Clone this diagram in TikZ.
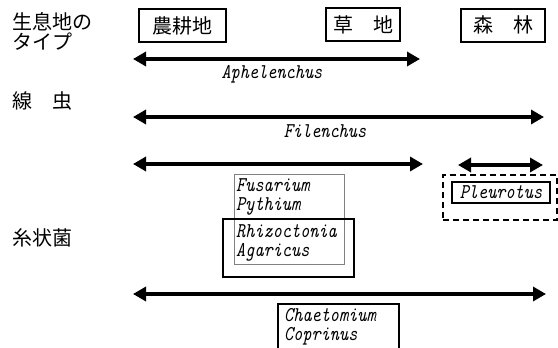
\documentclass[tikz,border=0pt]{standalone}
\usepackage{fontspec}
\newfontfamily\jpfont{Noto Sans CJK JP}
\newfontfamily\latfont{lmmono10-regular}[Extension=.otf, ItalicFont=lmmono10-italic, FakeStretch=0.83]
\usetikzlibrary{arrows.meta,positioning}

\begin{document}
\begin{tikzpicture}[x=1pt,y=-1pt]

    \tikzset{
      spanbar/.style={
        line width=3.5pt,
        {Triangle[length=13pt,width=14pt]}-{Triangle[length=13pt,width=14pt]},
      },
      habitat/.style={draw, line width=2pt, inner sep=0pt, minimum height=33pt,
        font=\jpfont\fontsize{20}{20}\selectfont},
      rowlabel/.style={anchor=west, inner sep=0pt, align=left,
        font=\jpfont\fontsize{20}{20}\selectfont},
      genus/.style={inner sep=0pt, font=\latfont\itshape\fontsize{21}{19.5}\selectfont},
      spp/.style={genus, anchor=west, align=left},
      thinbox/.style={draw=gray, line width=0.8pt, inner sep=0pt},
      thickbox/.style={draw, line width=2.5pt, inner sep=0pt},
    }
    \useasboundingbox (0,0) rectangle (558,348);
    \clip (0,0) rectangle (558,348);

	\node[rowlabel] (type) at (12,31) {生息地の\\タイプ};
	\node[rowlabel] (nema) at (12,101) {線　虫};
	\node[rowlabel] (fungi) at (12,238) {糸状菌};

	\node[habitat, minimum width=87pt] (farm) at (182.5,25.5) {農耕地};
	\node[habitat, minimum width=74pt] (grass) at (363,24.5) {草　地};
	\node[habitat, minimum width=84pt] (forest) at (503,25) {森　林};

	\coordinate (aph-l) at (133,59);
	\coordinate (aph-r) at (420,59);
	\draw[spanbar] (aph-l) -- (aph-r);
	\node[genus] (aph) at (272,74) {Aphelenchus};

	\coordinate (fil-l) at (133,117);
	\coordinate (fil-r) at (544,117);
	\draw[spanbar] (fil-l) -- (fil-r);
	\node[genus] (fil) at (325,131) {Filenchus};

	\coordinate (fus-l) at (133,164);
	\coordinate (fus-r) at (423,164);
	\draw[spanbar] (fus-l) -- (fus-r);
	\node[thinbox, minimum width=110pt, minimum height=90pt] (fusbox) at (289,219) {};
	\node[spp] (fus) at (236,197) {Fusarium\\Pythium};
	\node[spp] (rhi) at (236,243) {Rhizoctonia\\Agaricus};
	\node[thickbox, minimum width=131pt, minimum height=58pt] (rhibox) at (288.5,248) {};

	\coordinate (pleu-l) at (458,165);
	\coordinate (pleu-r) at (543,165);
	\draw[spanbar] (pleu-l) -- (pleu-r);
	\node[draw, line width=2.5pt, dash pattern=on 6pt off 4pt, minimum width=114pt, minimum height=45pt] (pleubox) at (500,197.5) {};
	\node[genus, draw, line width=2pt, minimum width=98pt, minimum height=21pt] (pleu) at (501,192.5) {Pleurotus};

	\coordinate (chae-l) at (133,294);
	\coordinate (chae-r) at (546,294);
	\draw[spanbar] (chae-l) -- (chae-r);
	\node[thickbox, line width=2pt, minimum width=121pt, minimum height=60pt, anchor=north] (chaebox) at (338.5,303) {};
	\node[spp] (chae) at (284,327) {Chaetomium\\Coprinus};

\end{tikzpicture}
\end{document}
